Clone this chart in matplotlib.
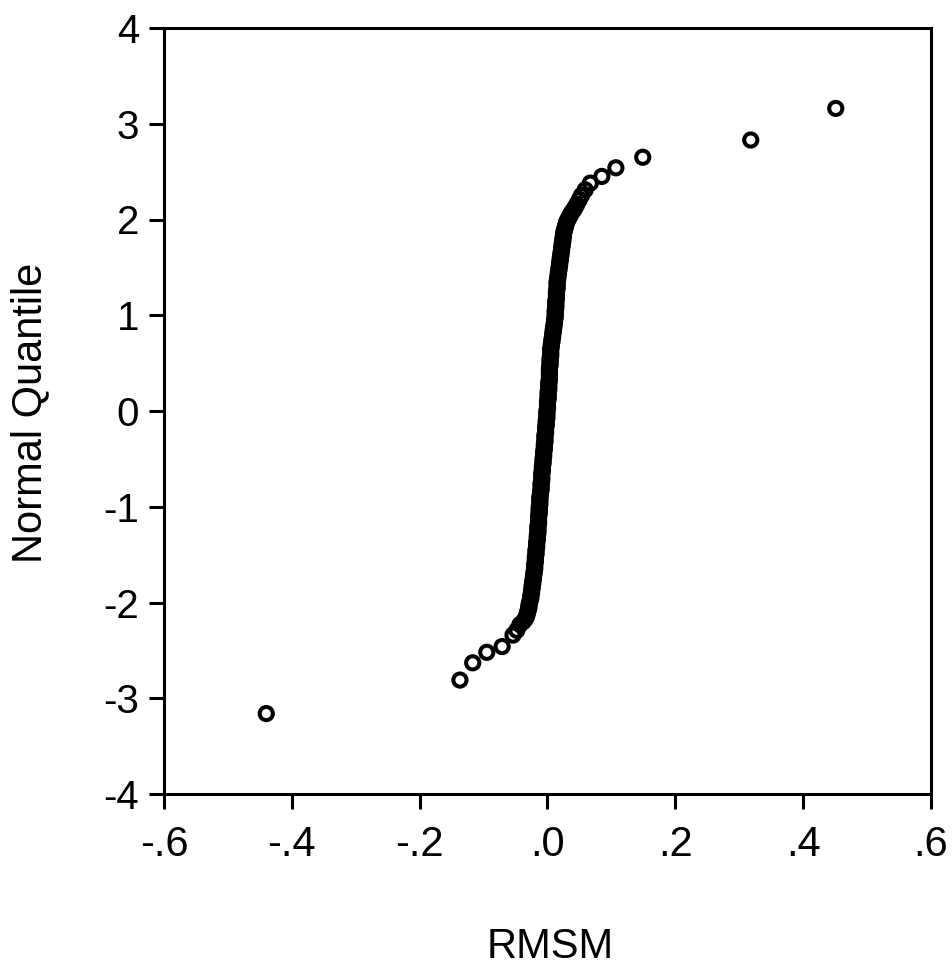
import matplotlib
matplotlib.use("Agg")
from matplotlib import pyplot as plt

plt.rcParams['font.family'] = ['Liberation Sans', 'DejaVu Sans']
plt.rcParams['axes.unicode_minus'] = False

# dense body of the QQ plot (normal quantile, RMSM value)
body_q = [-2.175, -2.150, -2.125, -2.100, -2.075, -2.050, -2.025, -2.000, -1.975, -1.950,
          -1.925, -1.900, -1.875, -1.850, -1.825, -1.800, -1.775, -1.750, -1.725, -1.700,
          -1.675, -1.650, -1.625, -1.600, -1.575, -1.550, -1.525, -1.500, -1.475, -1.450,
          -1.425, -1.400, -1.375, -1.350, -1.325, -1.300, -1.275, -1.250, -1.225, -1.200,
          -1.175, -1.150, -1.125, -1.100, -1.075, -1.050, -1.025, -1.000, -0.975, -0.950,
          -0.925, -0.900, -0.875, -0.850, -0.825, -0.800, -0.775, -0.750, -0.725, -0.700,
          -0.675, -0.650, -0.625, -0.600, -0.575, -0.550, -0.525, -0.500, -0.475, -0.450,
          -0.425, -0.400, -0.375, -0.350, -0.325, -0.300, -0.275, -0.250, -0.225, -0.200,
          -0.175, -0.150, -0.125, -0.100, -0.075, -0.050, -0.025, 0.000, 0.025, 0.050,
          0.075, 0.100, 0.125, 0.150, 0.175, 0.200, 0.225, 0.250, 0.275, 0.300,
          0.325, 0.350, 0.375, 0.400, 0.425, 0.450, 0.475, 0.500, 0.525, 0.550,
          0.575, 0.600, 0.625, 0.650, 0.675, 0.700, 0.725, 0.750, 0.775, 0.800,
          0.825, 0.850, 0.875, 0.900, 0.925, 0.950, 0.975, 1.000, 1.025, 1.050,
          1.075, 1.100, 1.125, 1.150, 1.175, 1.200, 1.225, 1.250, 1.275, 1.300,
          1.325, 1.350, 1.375, 1.400, 1.425, 1.450, 1.475, 1.500, 1.525, 1.550,
          1.575, 1.600, 1.625, 1.650, 1.675, 1.700, 1.725, 1.750, 1.775, 1.800,
          1.825, 1.850, 1.875, 1.900, 1.925, 1.950, 1.975, 2.000, 2.025, 2.050,
          2.075, 2.100, 2.125]
body_x = [-0.035, -0.033, -0.032, -0.031, -0.030, -0.029, -0.029, -0.028, -0.027, -0.026,
          -0.026, -0.025, -0.025, -0.024, -0.024, -0.023, -0.023, -0.022, -0.022, -0.021,
          -0.021, -0.020, -0.020, -0.020, -0.019, -0.019, -0.019, -0.018, -0.018, -0.018,
          -0.017, -0.017, -0.017, -0.016, -0.016, -0.016, -0.015, -0.015, -0.015, -0.015,
          -0.014, -0.014, -0.014, -0.014, -0.013, -0.013, -0.013, -0.013, -0.012, -0.012,
          -0.012, -0.012, -0.011, -0.011, -0.010, -0.010, -0.010, -0.010, -0.009, -0.009,
          -0.009, -0.009, -0.008, -0.008, -0.008, -0.007, -0.007, -0.007, -0.006, -0.006,
          -0.006, -0.005, -0.005, -0.005, -0.004, -0.004, -0.004, -0.004, -0.003, -0.003,
          -0.003, -0.002, -0.002, -0.002, -0.001, -0.001, -0.001, -0.001, 0.000, 0.000,
          0.000, 0.000, 0.001, 0.001, 0.001, 0.001, 0.002, 0.002, 0.002, 0.002,
          0.003, 0.003, 0.003, 0.003, 0.003, 0.003, 0.004, 0.004, 0.004, 0.004,
          0.005, 0.005, 0.005, 0.005, 0.006, 0.006, 0.007, 0.007, 0.008, 0.008,
          0.009, 0.009, 0.010, 0.010, 0.011, 0.011, 0.012, 0.012, 0.012, 0.012,
          0.013, 0.013, 0.013, 0.013, 0.014, 0.014, 0.014, 0.014, 0.015, 0.015,
          0.015, 0.015, 0.016, 0.016, 0.017, 0.017, 0.018, 0.018, 0.019, 0.019,
          0.020, 0.020, 0.021, 0.021, 0.022, 0.022, 0.023, 0.023, 0.024, 0.024,
          0.025, 0.025, 0.026, 0.027, 0.028, 0.029, 0.030, 0.032, 0.034, 0.036,
          0.038, 0.041, 0.043]

# tail points that show as separate circles
tail_x = [-0.440, -0.137, -0.117, -0.095, -0.071, -0.054, -0.048, -0.043, -0.038,
          0.046, 0.050, 0.053, 0.059, 0.067, 0.085, 0.107, 0.149, 0.318, 0.451]
tail_q = [-3.16, -2.81, -2.63, -2.52, -2.46, -2.34, -2.29, -2.23, -2.20,
          2.16, 2.21, 2.25, 2.31, 2.38, 2.45, 2.54, 2.65, 2.83, 3.16]

x_ticks = [-0.6, -0.4, -0.2, 0.0, 0.2, 0.4, 0.6]
x_labels = ['-.6', '-.4', '-.2', '.0', '.2', '.4', '.6']
y_ticks = [-4, -3, -2, -1, 0, 1, 2, 3, 4]
y_labels = ['-4', '-3', '-2', '-1', '0', '1', '2', '3', '4']


def main():
    fig = plt.figure(figsize=(9.53, 9.73), dpi=100)
    ax = fig.add_axes([164 / 953, 1 - 794 / 973, 767 / 953, 766 / 973])

    ax.scatter(body_x + tail_x, body_q + tail_q, s=90, facecolors='none',
               edgecolors='black', linewidths=2.9, clip_on=False)

    ax.set_xlim(-0.6, 0.6)
    ax.set_ylim(-4, 4)
    ax.set_xticks(x_ticks)
    ax.set_xticklabels(x_labels)
    ax.set_yticks(y_ticks)
    ax.set_yticklabels(y_labels)
    ax.tick_params(axis='both', direction='out', length=11, width=2.2, colors='black')
    ax.tick_params(axis='x', labelsize=30, pad=11)
    ax.tick_params(axis='y', labelsize=29, pad=7)
    for sp in ax.spines.values():
        sp.set_linewidth(2.2)

    ax.set_xlabel('RMSM', fontsize=30)
    ax.xaxis.set_label_coords(0.503, -0.2)
    ax.xaxis.label.set_va('center')
    ax.set_ylabel('Normal Quantile', fontsize=30)
    ax.yaxis.set_label_coords((30 - 164) / 767, (794 - 413) / 766)
    ax.yaxis.label.set_va('center')

    fig.savefig('out.png', dpi=100)


if __name__ == '__main__':
    main()
